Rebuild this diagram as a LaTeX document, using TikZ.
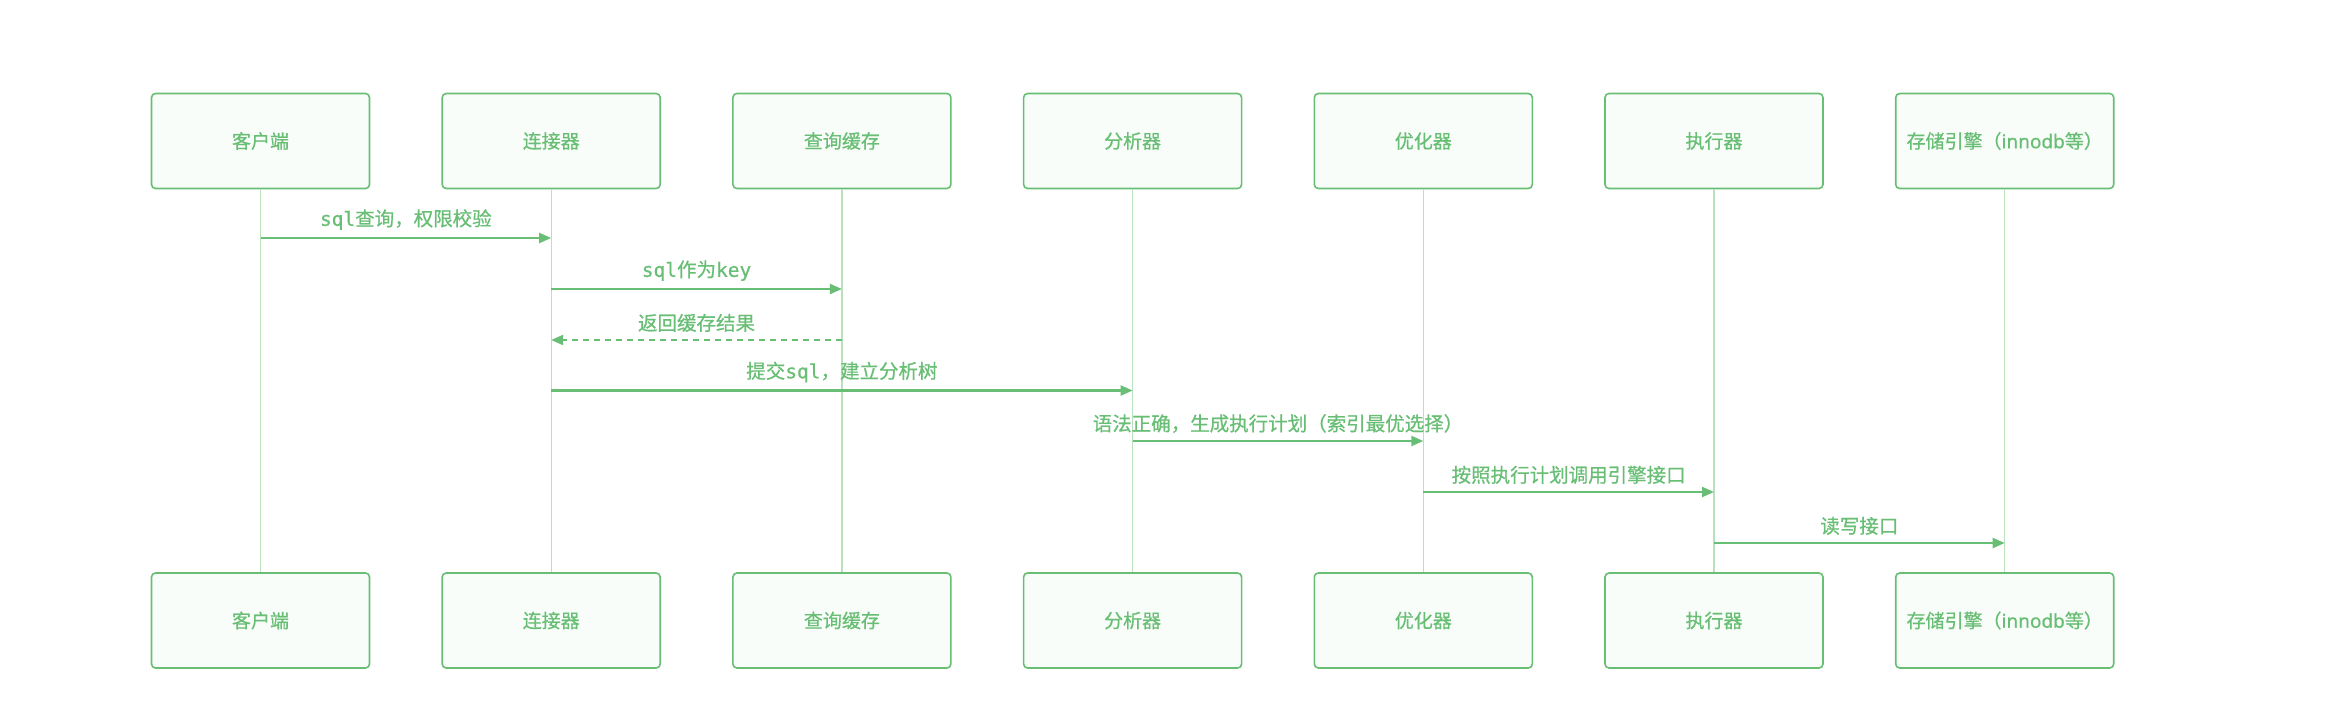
\documentclass[tikz,border=0pt]{standalone}
\usepackage{fontspec}
\setmainfont{Noto Sans CJK SC}[FakeBold=0.6]
\newfontfamily\monof{DejaVu Sans Mono}[FakeBold=0.6]
\newfontfamily\latinf{Noto Sans}[FakeBold=0.6]
\usetikzlibrary{arrows.meta}
\definecolor{grn}{RGB}{104,190,116}
\definecolor{lgrn}{RGB}{185,225,190}
\definecolor{boxfill}{RGB}{249,253,249}
\tikzset{
  actor/.style={draw=grn, line width=1.6pt, rounded corners=4pt, fill=boxfill,
    minimum width=218pt, minimum height=95pt, inner sep=0pt,
    text=grn, font=\fontsize{19}{21}\selectfont},
  life/.style={draw=lgrn, line width=1.3pt},
  msg/.style={draw=grn, line width=2.2pt, -{Triangle[length=12pt,width=10pt]}},
  ret/.style={msg, dash pattern=on 6pt off 5pt},
  lbl/.style={text=grn, font=\fontsize{19.5}{21}\selectfont, inner sep=0pt}
}
\begin{document}
\begin{tikzpicture}[x=1pt,y=-1pt]
\useasboundingbox (0,0) rectangle (2346,728);
\fill[white] (0,0) rectangle (2346,728);
\foreach \i/\name/\txt in {0/c/客户端,1/k/连接器,2/q/查询缓存,3/f/分析器,4/y/优化器,5/z/执行器,6/s/{存储引擎（{\latinf innodb}等）}}{
  \pgfmathsetmacro{\xc}{260.5+290.7*\i}
  \node[actor] (\name t) at (\xc,141) {\txt};
  \node[actor] (\name b) at (\xc,620.5) {\txt};
  \draw[life] (\name t.south) -- (\name b.north);
}
\foreach \name in {c,k,q,f,y,z,s}{
  \foreach \j/\yy in {1/238,2/289,3/340,4/390.5,5/441,6/492,7/543}{
    \coordinate (\name\j) at (\name t.south |- 0,\yy);
  }
}
\draw[msg] (c1) -- (k1) node[lbl, midway, above=7pt] {{\monof sql}查询，权限校验};
\draw[msg] (k2) -- (q2) node[lbl, midway, above=7pt] {{\monof sql}作为{\monof key}};
\draw[ret] (q3) -- (k3) node[lbl, midway, above=7pt] {返回缓存结果};
\draw[msg] (k4) -- (f4) node[lbl, midway, above=7pt] {提交{\monof sql}，建立分析树};
\draw[msg] (f5) -- (y5) node[lbl, midway, above=7pt] {语法正确，生成执行计划（索引最优选择）};
\draw[msg] (y6) -- (z6) node[lbl, midway, above=7pt] {按照执行计划调用引擎接口};
\draw[msg] (z7) -- (s7) node[lbl, midway, above=7pt] {读写接口};
\end{tikzpicture}
\end{document}
